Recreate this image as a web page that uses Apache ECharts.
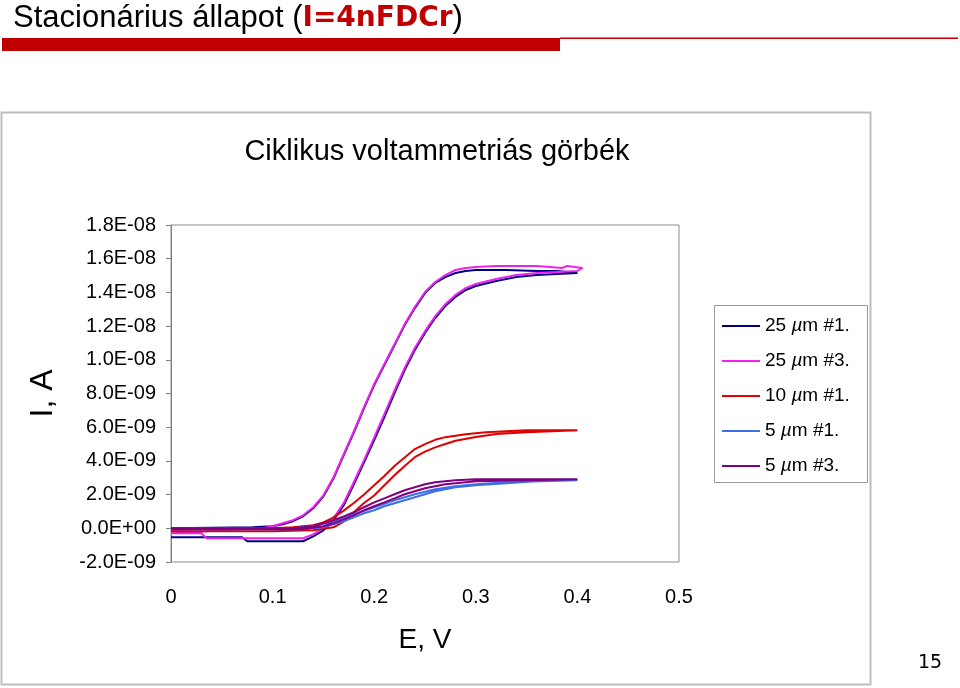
<!DOCTYPE html>
<html>
<head>
<meta charset="utf-8">
<script src="https://cdn.jsdelivr.net/npm/echarts@6/dist/echarts.min.js"></script>
<style>html,body{margin:0;padding:0;background:#fff}#c{width:960px;height:688px}</style>
</head>
<body>
<div id="c"></div>
<script>
// Series names (legend)
var seriesNames = ['25 µm #1.', '25 µm #3.', '10 µm #1.', '5 µm #1.', '5 µm #3.'];
var seriesColors = ['#000080', '#f020f0', '#e00000', '#3f6fe8', '#800080'];

// Axis ticks
var xTicks = [0, 0.1, 0.2, 0.3, 0.4, 0.5];
var yMin = -2e-9, yMax = 1.8e-8, yStep = 2e-9;

// [E (V), I (A)] — forward scan then reverse scan
var cv25_1 = [
  [0,-0.53e-9],[0.03,-0.53e-9],[0.07,-0.53e-9],[0.075,-0.77e-9],[0.13,-0.77e-9],
  [0.14,-0.48e-9],[0.15,-0.12e-9],[0.16,0.48e-9],[0.17,1.37e-9],[0.18,2.61e-9],[0.19,3.92e-9],
  [0.20,5.23e-9],[0.21,6.60e-9],[0.22,8.02e-9],[0.23,9.39e-9],[0.24,10.58e-9],[0.25,11.59e-9],
  [0.26,12.48e-9],[0.27,13.19e-9],[0.28,13.73e-9],[0.29,14.14e-9],[0.30,14.38e-9],
  [0.32,14.68e-9],[0.34,14.91e-9],[0.36,15.03e-9],[0.38,15.09e-9],[0.40,15.15e-9],
  [0.38,15.27e-9],[0.36,15.27e-9],[0.33,15.33e-9],[0.30,15.33e-9],[0.29,15.27e-9],[0.28,15.15e-9],
  [0.27,14.91e-9],[0.26,14.56e-9],[0.25,13.96e-9],[0.24,13.07e-9],[0.23,12.06e-9],[0.22,10.87e-9],
  [0.21,9.69e-9],[0.20,8.50e-9],[0.19,7.13e-9],[0.18,5.70e-9],[0.17,4.34e-9],[0.16,2.97e-9],
  [0.15,1.90e-9],[0.14,1.19e-9],[0.13,0.71e-9],[0.12,0.42e-9],[0.11,0.24e-9],[0.10,0.12e-9],
  [0.08,0.06e-9],[0,0]
];
var cv25_3 = [
  [0,-0.30e-9],[0.03,-0.30e-9],[0.035,-0.59e-9],[0.13,-0.59e-9],[0.14,-0.36e-9],[0.15,0.0],
  [0.16,0.60e-9],[0.17,1.50e-9],[0.18,2.75e-9],[0.19,4.05e-9],[0.20,5.40e-9],[0.21,6.78e-9],
  [0.22,8.18e-9],[0.23,9.52e-9],[0.24,10.70e-9],[0.25,11.70e-9],[0.26,12.58e-9],[0.27,13.30e-9],
  [0.28,13.85e-9],[0.29,14.25e-9],[0.30,14.50e-9],[0.32,14.80e-9],[0.34,15.03e-9],[0.36,15.15e-9],
  [0.38,15.21e-9],[0.40,15.27e-9],
  [0.405,15.45e-9],[0.39,15.57e-9],[0.385,15.45e-9],[0.36,15.57e-9],[0.32,15.57e-9],[0.30,15.51e-9],
  [0.29,15.45e-9],[0.28,15.33e-9],[0.27,15.03e-9],[0.26,14.62e-9],[0.25,14.02e-9],[0.24,13.13e-9],
  [0.23,12.12e-9],[0.22,10.93e-9],[0.21,9.75e-9],[0.20,8.56e-9],[0.19,7.19e-9],[0.18,5.76e-9],
  [0.17,4.40e-9],[0.16,3.03e-9],[0.15,1.96e-9],[0.14,1.25e-9],[0.13,0.77e-9],[0.12,0.48e-9],
  [0.11,0.30e-9],[0.10,0.12e-9],[0.09,0.0],[0.05,-0.12e-9],[0,-0.30e-9]
];
var cv10_1 = [
  [0,-0.18e-9],[0.10,-0.18e-9],[0.14,-0.12e-9],[0.16,0.06e-9],[0.17,0.40e-9],[0.18,0.95e-9],
  [0.19,1.50e-9],[0.20,1.95e-9],[0.21,2.55e-9],[0.22,3.15e-9],[0.23,3.70e-9],[0.24,4.22e-9],
  [0.25,4.55e-9],[0.26,4.80e-9],[0.27,5.00e-9],[0.28,5.20e-9],[0.30,5.42e-9],[0.32,5.60e-9],
  [0.35,5.70e-9],[0.40,5.82e-9],
  [0.35,5.82e-9],[0.31,5.70e-9],[0.29,5.58e-9],[0.27,5.41e-9],[0.26,5.25e-9],[0.25,5.00e-9],
  [0.24,4.70e-9],[0.23,4.20e-9],[0.22,3.70e-9],[0.21,3.10e-9],[0.20,2.55e-9],[0.19,2.00e-9],
  [0.18,1.50e-9],[0.17,1.05e-9],[0.16,0.65e-9],[0.15,0.35e-9],[0.14,0.18e-9],[0.12,0.06e-9],
  [0.10,0.0],[0,-0.06e-9]
];
var cv5_1 = [
  [0,-0.06e-9],[0.13,-0.06e-9],[0.15,0.06e-9],[0.16,0.24e-9],[0.17,0.42e-9],[0.18,0.65e-9],
  [0.19,0.89e-9],[0.20,1.07e-9],[0.21,1.31e-9],[0.22,1.49e-9],[0.23,1.66e-9],[0.24,1.84e-9],
  [0.25,2.02e-9],[0.26,2.20e-9],[0.27,2.32e-9],[0.28,2.44e-9],[0.30,2.55e-9],[0.33,2.67e-9],
  [0.36,2.79e-9],[0.40,2.85e-9],
  [0.33,2.73e-9],[0.30,2.61e-9],[0.28,2.50e-9],[0.26,2.32e-9],[0.24,2.02e-9],[0.22,1.66e-9],
  [0.20,1.25e-9],[0.18,0.83e-9],[0.16,0.42e-9],[0.14,0.12e-9],[0.12,0.0],[0,0]
];
var cv5_3 = [
  [0,-0.06e-9],[0.13,-0.06e-9],[0.15,0.12e-9],[0.16,0.30e-9],[0.17,0.53e-9],[0.18,0.77e-9],
  [0.19,1.07e-9],[0.20,1.31e-9],[0.21,1.54e-9],[0.22,1.78e-9],[0.23,2.02e-9],[0.24,2.20e-9],
  [0.25,2.38e-9],[0.26,2.50e-9],[0.27,2.61e-9],[0.28,2.67e-9],[0.30,2.79e-9],[0.35,2.85e-9],
  [0.40,2.91e-9],
  [0.30,2.91e-9],[0.28,2.85e-9],[0.26,2.73e-9],[0.25,2.61e-9],[0.24,2.44e-9],[0.23,2.26e-9],
  [0.22,2.02e-9],[0.21,1.78e-9],[0.20,1.54e-9],[0.19,1.25e-9],[0.18,0.95e-9],[0.17,0.71e-9],
  [0.16,0.48e-9],[0.15,0.30e-9],[0.14,0.12e-9],[0.12,0.0],[0,0]
];
var seriesData = [cv25_1, cv25_3, cv10_1, cv5_1, cv5_3];

var FONT = "'Liberation Sans', Arial, sans-serif";

function fmtY(v) {
  if (Math.abs(v) < 1e-15) return '0.0E+00';
  var s = v.toExponential(1).split('e');
  var ex = parseInt(s[1], 10);
  var sign = ex < 0 ? '-' : '+';
  var a = Math.abs(ex);
  return s[0] + 'E' + sign + (a < 10 ? '0' + a : a);
}

var chart = echarts.init(document.getElementById('c'), null, {renderer: 'canvas'});

var series = seriesNames.map(function (n, k) {
  return {
    name: n, type: 'line', data: seriesData[k], showSymbol: false, symbol: 'none',
    smooth: false, animation: false, color: seriesColors[k],
    lineStyle: {width: 2, color: seriesColors[k]}
  };
});

chart.setOption({
  animation: false,
  title: {
    left: 8, top: -2,
    text: '{a|Stacionárius állapot (}{b|I=4nFDCr}{a|)}',
    textStyle: {
      fontWeight: 'normal',
      rich: {
        a: {fontFamily: FONT, fontSize: 31, fontWeight: 'normal', color: '#000'},
        b: {fontFamily: "'DejaVu Sans', sans-serif", fontWeight: 'bold', fontSize: 28, color: '#c00000'}
      }
    }
  },
  grid: {left: 171, right: 281, top: 225, bottom: 126, show: true, borderColor: '#8c8c8c', borderWidth: 1},
  xAxis: {
    type: 'value', min: 0, max: 0.5, interval: 0.1,
    axisLine: {show: false}, axisTick: {show: false}, splitLine: {show: false},
    axisLabel: {margin: 25, fontSize: 20, fontFamily: FONT, color: '#000',
      formatter: function (v) { return xTicks.indexOf(Math.round(v * 10) / 10) >= 0 ? String(Math.round(v * 10) / 10) : ''; }},
    name: 'E, V', nameLocation: 'middle', nameGap: 64,
    nameTextStyle: {fontSize: 28, fontFamily: FONT, color: '#000'}
  },
  yAxis: {
    type: 'value', min: yMin, max: yMax, interval: yStep,
    axisLine: {show: true, lineStyle: {color: '#808080', width: 1}},
    axisTick: {show: true, inside: false, length: 5, lineStyle: {color: '#808080'}},
    splitLine: {show: false},
    axisLabel: {margin: 15, fontSize: 20, fontFamily: FONT, color: '#000', formatter: fmtY},
    name: 'I, A', nameLocation: 'middle', nameRotate: 90, nameGap: 112,
    nameTextStyle: {fontSize: 32, fontFamily: FONT, color: '#000'}
  },
  legend: {
    orient: 'vertical', left: 717, top: 310,
    itemWidth: 38, itemHeight: 2, itemGap: 13, icon: 'rect',
    data: seriesNames,
    formatter: function (n) { return n.replace('µ', '{i|µ}'); },
    textStyle: {fontSize: 19, fontFamily: FONT, color: '#000', lineHeight: 22,
      rich: {i: {fontStyle: 'italic', fontSize: 19, fontFamily: FONT, color: '#000', lineHeight: 22}}}
  },
  graphic: [
    {type: 'rect', shape: {x: 2, y: 38, width: 558, height: 13}, style: {fill: '#c00000'}, silent: true},
    {type: 'rect', shape: {x: 560, y: 37.5, width: 398, height: 1.5}, style: {fill: '#c00000'}, silent: true},
    {type: 'rect', shape: {x: 1.5, y: 112.5, width: 869, height: 572}, style: {fill: 'none', stroke: '#bdbdbd', lineWidth: 2}, silent: true, z: -1},
    {type: 'rect', shape: {x: 714.5, y: 305.5, width: 153, height: 177}, style: {fill: 'none', stroke: '#9a9a9a', lineWidth: 1}, silent: true},
    {type: 'text', style: {text: 'Ciklikus voltammetriás görbék', x: 437, y: 152, textAlign: 'center', textVerticalAlign: 'middle',
      font: "29px 'Liberation Sans', Arial, sans-serif", fill: '#000'}, silent: true},
    {type: 'text', style: {text: '15', x: 930, y: 663, textAlign: 'center', textVerticalAlign: 'middle',
      font: "19px 'DejaVu Sans', sans-serif", fill: '#000'}, silent: true}
  ],
  series: series
});
</script>
</body>
</html>
